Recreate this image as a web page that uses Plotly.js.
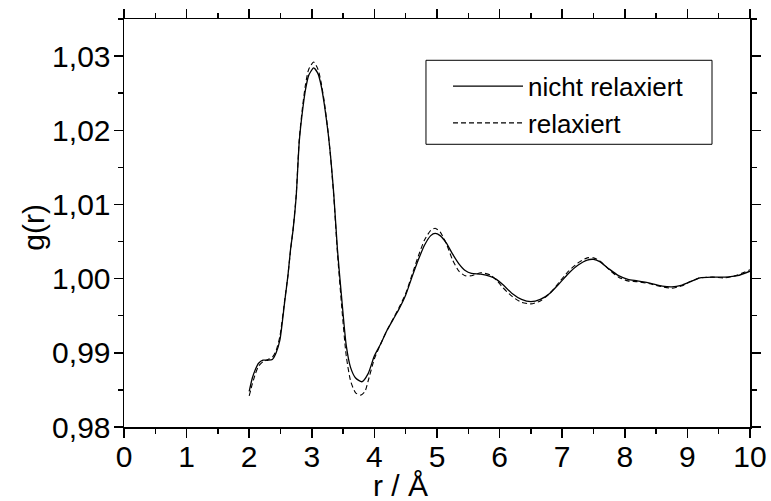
<!DOCTYPE html>
<html>
<head>
<meta charset="utf-8">
<script src="https://cdn.plot.ly/plotly-3.0.1.min.js"></script>
<style>
  html, body { margin: 0; padding: 0; background: #fff; }
  #chart { width: 771px; height: 501px; }
</style>
</head>
<body>
<div id="chart"></div>
<script>
// Radial distribution function g(r), unrelaxed vs relaxed structure
const rUnrelaxed = [2.00, 2.05, 2.10, 2.15, 2.22, 2.30, 2.37, 2.43, 2.49, 2.57, 2.62, 2.66, 2.70, 2.75, 2.80, 2.85, 2.90, 2.95, 3.03, 3.10, 3.15, 3.20, 3.26, 3.30, 3.35, 3.41, 3.48, 3.55, 3.62, 3.70, 3.80, 3.90, 4.00, 4.10, 4.20, 4.30, 4.40, 4.50, 4.60, 4.70, 4.80, 4.90, 4.97, 5.05, 5.15, 5.25, 5.35, 5.45, 5.55, 5.70, 5.85, 5.95, 6.05, 6.20, 6.35, 6.50, 6.65, 6.80, 6.95, 7.10, 7.25, 7.40, 7.50, 7.60, 7.75, 7.90, 8.05, 8.20, 8.40, 8.60, 8.75, 8.90, 9.05, 9.20, 9.40, 9.60, 9.80, 10.00];
const gUnrelaxed = [0.9848, 0.9866, 0.9878, 0.9886, 0.9890, 0.9890, 0.9891, 0.9900, 0.9917, 0.9971, 1.0005, 1.0039, 1.0065, 1.0110, 1.0185, 1.0225, 1.0255, 1.0274, 1.0284, 1.0276, 1.0260, 1.0235, 1.0197, 1.0165, 1.0115, 1.0039, 0.9971, 0.9910, 0.9880, 0.9866, 0.9861, 0.9872, 0.9896, 0.9912, 0.9930, 0.9945, 0.9960, 0.9978, 1.0002, 1.0025, 1.0045, 1.0058, 1.0061, 1.0058, 1.0048, 1.0033, 1.0020, 1.0011, 1.0007, 1.0006, 1.0003, 0.9999, 0.9992, 0.9980, 0.9972, 0.9969, 0.9972, 0.9980, 0.9993, 1.0007, 1.0018, 1.0025, 1.0026, 1.0023, 1.0013, 1.0004, 0.9999, 0.9997, 0.9994, 0.9990, 0.9989, 0.9991, 0.9996, 1.0001, 1.0002, 1.0002, 1.0004, 1.0010];

const rRelaxed = [2.00, 2.05, 2.10, 2.15, 2.22, 2.30, 2.37, 2.43, 2.49, 2.57, 2.62, 2.66, 2.70, 2.75, 2.80, 2.85, 2.90, 2.95, 3.03, 3.10, 3.15, 3.20, 3.26, 3.30, 3.35, 3.41, 3.48, 3.55, 3.62, 3.70, 3.78, 3.85, 3.90, 4.00, 4.10, 4.20, 4.30, 4.40, 4.50, 4.60, 4.70, 4.80, 4.90, 4.97, 5.05, 5.15, 5.25, 5.35, 5.45, 5.55, 5.70, 5.85, 5.95, 6.05, 6.20, 6.35, 6.50, 6.65, 6.80, 6.95, 7.10, 7.25, 7.40, 7.50, 7.60, 7.75, 7.90, 8.05, 8.20, 8.40, 8.60, 8.75, 8.90, 9.05, 9.20, 9.40, 9.60, 9.80, 10.00];
const gRelaxed = [0.9842, 0.9858, 0.9872, 0.9882, 0.9888, 0.9891, 0.9894, 0.9903, 0.9922, 0.9973, 1.0005, 1.0038, 1.0066, 1.0112, 1.0188, 1.0230, 1.0262, 1.0282, 1.0292, 1.0282, 1.0264, 1.0238, 1.0198, 1.0164, 1.0112, 1.0034, 0.9960, 0.9896, 0.9862, 0.9846, 0.9843, 0.9848, 0.9862, 0.9892, 0.9912, 0.9930, 0.9946, 0.9962, 0.9980, 1.0005, 1.0030, 1.0052, 1.0065, 1.0068, 1.0063, 1.0047, 1.0025, 1.0010, 1.0004, 1.0004, 1.0008, 1.0005, 0.9998, 0.9988, 0.9976, 0.9968, 0.9966, 0.9970, 0.9980, 0.9995, 1.0010, 1.0021, 1.0028, 1.0028, 1.0024, 1.0012, 1.0002, 0.9997, 0.9996, 0.9993, 0.9989, 0.9987, 0.9990, 0.9996, 1.0001, 1.0002, 1.0001, 1.0005, 1.0012];

const seriesNames = ['nicht relaxiert', 'relaxiert'];
const xTitle = 'r / Å';
const yTitle = 'g(r)';

const FONT = '"Liberation Sans", Arial, Helvetica, sans-serif';

const traces = [
  {
    x: rUnrelaxed, y: gUnrelaxed, name: seriesNames[0],
    type: 'scatter', mode: 'lines',
    line: { color: '#000', width: 1.3, shape: 'spline', smoothing: 0.6 }
  },
  {
    x: rRelaxed, y: gRelaxed, name: seriesNames[1],
    type: 'scatter', mode: 'lines',
    line: { color: '#000', width: 1.1, dash: '5px,3px', shape: 'spline', smoothing: 0.6 }
  }
];

const axisCommon = {
  showgrid: false, zeroline: false,
  showline: true, linecolor: '#000', linewidth: 1.5,
  mirror: 'ticks',
  ticks: 'outside', ticklen: 9, tickwidth: 1.5, tickcolor: '#000',
  tickfont: { family: FONT, size: 30, color: '#000' }
};

const layout = {
  width: 771, height: 501,
  margin: { l: 124, r: 21, t: 19, b: 74 },
  paper_bgcolor: '#fff', plot_bgcolor: '#fff',
  separators: ',.',
  font: { family: FONT, color: '#000' },
  showlegend: true,
  legend: {
    x: 0.5176, y: 0.893, xanchor: 'left', yanchor: 'top',
    borderwidth: 0, bgcolor: 'rgba(0,0,0,0)',
    font: { family: FONT, size: 26, color: '#000' },
    itemwidth: 70, tracegroupgap: 0
  },
  // legend frame
  shapes: [{
    type: 'rect', xref: 'paper', yref: 'paper',
    x0: 0.4824, x1: 0.9393, y0: 0.6929, y1: 0.8988,
    line: { color: '#000', width: 1 }, fillcolor: 'rgba(0,0,0,0)', layer: 'below'
  }],
  annotations: [
    {
      text: xTitle, xref: 'paper', yref: 'paper',
      x: 0.441, y: -0.1446, xanchor: 'center', yanchor: 'middle',
      showarrow: false, font: { family: FONT, size: 30, color: '#000' }
    },
    {
      text: yTitle, xref: 'paper', yref: 'paper', textangle: -90,
      x: -0.1459, y: 0.49, xanchor: 'center', yanchor: 'middle',
      showarrow: false, font: { family: FONT, size: 30, color: '#000' }
    }
  ],
  xaxis: Object.assign({}, axisCommon, {
    range: [0, 10], tickmode: 'linear', tick0: 0, dtick: 1,
    ticklabelstandoff: -7,
    minor: { dtick: 0.5, ticks: 'outside', ticklen: 5, tickwidth: 1.5, tickcolor: '#000' }
  }),
  yaxis: Object.assign({}, axisCommon, {
    range: [0.98, 1.035], tickmode: 'linear', tick0: 0.98, dtick: 0.01,
    tickformat: '.2f', ticklabelstandoff: -3,
    minor: { dtick: 0.005, ticks: 'outside', ticklen: 5, tickwidth: 1.5, tickcolor: '#000' }
  })
};

Plotly.newPlot('chart', traces, layout, { staticPlot: true, displayModeBar: false });
</script>
</body>
</html>
